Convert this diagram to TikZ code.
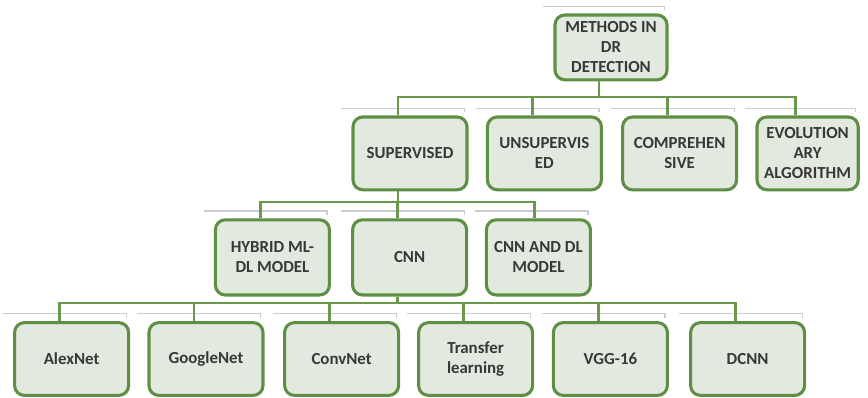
\documentclass[tikz,border=0pt]{standalone}
\usepackage{fontspec}
\setmainfont{Carlito}
\usetikzlibrary{positioning,calc}
\definecolor{boxgreen}{HTML}{5E8F44}
\definecolor{linegreen}{HTML}{6A994B}
\definecolor{boxfill}{HTML}{E2E9DE}
\definecolor{textgray}{HTML}{383838}
\definecolor{rimgray}{HTML}{C9CDD6}
\tikzset{>=latex}
\tikzset{
  box/.style={draw=boxgreen, line width=2.2pt, fill=boxfill, rounded corners=7pt,
    align=center, minimum width=2.85cm, minimum height=1.82cm, inner sep=2pt,
    text=textgray, font=\fontsize{12}{14.2}\selectfont\bfseries},
  link/.style={draw=linegreen, line width=2pt},
  bus/.style={link, line cap=rect},
  rim/.style={draw=rimgray, line width=0.8pt}
}

\begin{document}
\begin{tikzpicture}
\useasboundingbox (0,0) rectangle (21.7,9.925);
% top
\node[box, minimum width=2.8cm, minimum height=1.62cm] (meth) at (15.275,8.74) {METHODS IN\\DR\\DETECTION};
% second row
\node[box] (sup) at (10.25,6.09) {SUPERVISED};
\node[box] (unsup) at (13.61,6.09) {UNSUPERVIS\\ED};
\node[box] (comp) at (16.99,6.09) {COMPREHEN\\SIVE};
\node[box, minimum width=2.53cm] (evol) at (20.19,6.09) {EVOLUTION\\ARY\\ALGORITHM};
% third row
\node[box, minimum height=1.88cm] (hyb) at (6.81,3.49) {HYBRID ML-\\DL MODEL};
\node[box, minimum height=1.88cm] (cnn) at (10.24,3.49) {CNN};
\node[box, minimum width=2.6cm, minimum height=1.88cm] (cnndl) at (13.46,3.49) {CNN AND DL\\MODEL};
% fourth row
\node[box] (alex) at (1.79,0.95) {AlexNet};
\node[box] (goog) at (5.15,0.95) {GoogleNet};
\node[box] (conv) at (8.54,0.95) {ConvNet};
\node[box] (trans) at (11.89,0.95) {Transfer\\learning};
\node[box] (vgg) at (15.26,0.95) {VGG-16};
\node[box] (dcnn) at (18.69,0.95) {DCNN};

% faint rims over the boxes
\foreach \n in {meth,sup,unsup,comp,evol,hyb,cnn,cnndl,alex,goog,conv,trans,vgg,dcnn}
  \draw[rim] ([xshift=-2.5mm,yshift=1.8mm]\n.north west) -- ([xshift=-1mm,yshift=1.8mm]\n.north east)
    -- ++(0,-1mm);

% bus levels
\coordinate (b1) at (0,7.5);
\coordinate (b2) at (0,4.875);
\coordinate (b3) at (0,2.35);

\begin{scope}
\path ([xshift=-3mm]meth.south) coordinate (meth-d);
\draw[link] (meth-d) -- (meth-d |- b1);
\foreach \n in {sup,unsup,comp,evol} {
  \path ([xshift=-3mm]\n.north) coordinate (\n-u);
  \draw[link] (\n-u) -- (\n-u |- b1);
}
\draw[bus] (sup-u |- b1) -- (evol-u |- b1);

\path ([xshift=-3mm]sup.south) coordinate (sup-d);
\draw[link] (sup-d) -- (sup-d |- b2);
\foreach \n/\dx in {hyb/-3mm,cnn/-3mm,cnndl/-1mm} {
  \path ([xshift=\dx]\n.north) coordinate (\n-u);
  \draw[link] (\n-u) -- (\n-u |- b2);
}
\draw[bus] (hyb-u |- b2) -- (cnndl-u |- b2);

\path ([xshift=-3mm]cnn.south) coordinate (cnn-d);
\draw[link] (cnn-d) -- (cnn-d |- b3);
\foreach \n in {alex,goog,conv,trans,vgg,dcnn} {
  \path ([xshift=-3mm]\n.north) coordinate (\n-u);
  \draw[link] (\n-u) -- (\n-u |- b3);
}
\draw[bus] (alex-u |- b3) -- (dcnn-u |- b3);
\end{scope}
\end{tikzpicture}
\end{document}
